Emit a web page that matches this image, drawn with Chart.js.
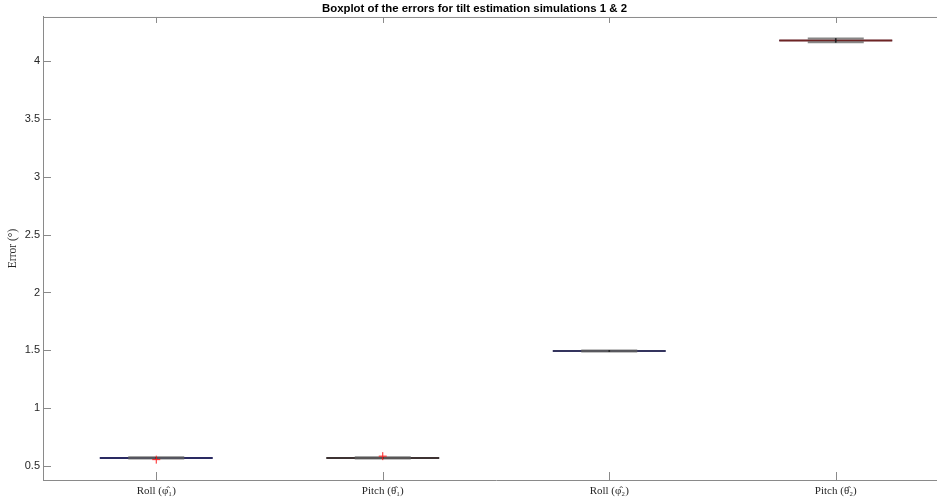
<!DOCTYPE html>
<html>
<head>
<meta charset="utf-8">
<script src="https://cdn.jsdelivr.net/npm/chart.js@4.4.1/dist/chart.umd.min.js"></script>
<style>
html, body { margin: 0; padding: 0; background: #fff; }
#wrap { position: absolute; left: 0; top: 0; width: 937px; height: 501px; overflow: hidden; }
#boxChart { display: block; }
</style>
</head>
<body>
<div id="wrap"><canvas id="boxChart" width="949" height="501"></canvas></div>
<script>
// Box plot values
const labels = ['Roll (\u03C6\u0302\u2081)', 'Pitch (\u03B8\u0302\u2081)', 'Roll (\u03C6\u0302\u2082)', 'Pitch (\u03B8\u0302\u2082)'];
const whiskerLow = [0.566, 0.566, 1.490, 4.161];
const q1 = [0.569, 0.569, 1.493, 4.171];
const median = [0.571, 0.571, 1.495, 4.177];
const q3 = [0.573, 0.573, 1.497, 4.183];
const whiskerHigh = [0.576, 0.576, 1.499, 4.194];
const outliers = [[0.556], [0.586], [], []];
const yTicks = [0.5, 1, 1.5, 2, 2.5, 3, 3.5, 4];

const outlierPoints = [];
outliers.forEach((vals, i) => {
    vals.forEach(v => outlierPoints.push({ x: labels[i], y: v }));
});
const pointsOf = arr => arr.map((v, i) => ({ x: labels[i], y: v }));

const axisColor = '#8a8a8a';
// blue box edge and red median overlap into these shades
const medianColors = ['#2a2a62', '#3d3232', '#34345e', '#6e2424'];

// MATLAB-style frame: top border and inward ticks
const framePlugin = {
    id: 'frame',
    afterDraw(chart) {
        const ctx = chart.ctx;
        const a = chart.chartArea;
        const xs = chart.scales.x;
        const ys = chart.scales.y;
        ctx.save();
        ctx.strokeStyle = axisColor;
        ctx.lineWidth = 1;
        ctx.beginPath();
        ctx.moveTo(a.left, a.top + 0.5);
        ctx.lineTo(a.right, a.top + 0.5);
        xs.ticks.forEach((t, i) => {
            const px = Math.round(xs.getPixelForTick(i)) + 0.5;
            ctx.moveTo(px, a.top);
            ctx.lineTo(px, a.top + 6);
            ctx.moveTo(px, a.bottom);
            ctx.lineTo(px, a.bottom - 8);
        });
        yTicks.forEach(v => {
            const py = Math.round(ys.getPixelForValue(v)) + 0.5;
            ctx.moveTo(a.left, py);
            ctx.lineTo(a.left + 8, py);
        });
        ctx.stroke();
        ctx.restore();
    }
};

const capStyle = {
    type: 'line',
    showLine: false,
    pointStyle: 'line',
    pointRadius: 28,
    pointHoverRadius: 28,
    borderColor: 'rgba(95,95,95,0.75)',
    borderWidth: 2,
    order: 2
};

const ctx = document.getElementById('boxChart').getContext('2d');
const boxChart = new Chart(ctx, {
    type: 'bar',
    data: {
        labels: labels,
        datasets: [
            {
                label: 'box',
                data: labels.map((l, i) => [q1[i], q3[i]]),
                backgroundColor: 'rgba(0,0,0,0)',
                borderColor: '#2a2a7a',
                borderWidth: 1,
                borderSkipped: false,
                barPercentage: 0.5,
                categoryPercentage: 1,
                grouped: false,
                order: 4
            },
            {
                label: 'median',
                type: 'line',
                data: pointsOf(median),
                showLine: false,
                pointStyle: 'line',
                pointRadius: 56.5,
                pointHoverRadius: 56.5,
                borderColor: medianColors,
                pointBorderColor: medianColors,
                borderWidth: 2,
                order: 3
            },
            Object.assign({ label: 'lower adjacent', data: pointsOf(whiskerLow) }, capStyle),
            Object.assign({ label: 'upper adjacent', data: pointsOf(whiskerHigh) }, capStyle),
            {
                label: 'whisker',
                data: labels.map((l, i) => [whiskerLow[i], whiskerHigh[i]]),
                backgroundColor: '#222',
                barThickness: 1,
                grouped: false,
                order: 1.5
            },
            {
                label: 'outliers',
                type: 'line',
                data: outlierPoints,
                showLine: false,
                pointStyle: 'cross',
                pointRadius: 4,
                pointHoverRadius: 4,
                borderColor: '#ff2020',
                borderWidth: 1,
                order: 1
            }
        ]
    },
    options: {
        responsive: false,
        animation: false,
        layout: { autoPadding: false, padding: { left: 0, right: 0, top: 0, bottom: 0 } },
        plugins: {
            legend: { display: false },
            tooltip: { enabled: false },
            title: {
                display: true,
                text: 'Boxplot of the errors for tilt estimation simulations 1 & 2',
                color: '#000',
                font: { family: "'Liberation Sans', Arial, sans-serif", size: 11.4, weight: 'bold' },
                padding: { top: 2, bottom: 1.3 },
                align: 'center'
            }
        },
        scales: {
            x: {
                type: 'category',
                offset: true,
                grid: { display: false, drawTicks: false },
                border: { display: true, color: axisColor },
                ticks: {
                    color: '#262626',
                    padding: 5,
                    font: { family: "'Liberation Serif', 'DejaVu Serif', serif", size: 11 }
                },
                afterFit: s => { s.height = 21; }
            },
            y: {
                min: 0.38,
                max: 4.38,
                afterBuildTicks: s => { s.ticks = yTicks.map(v => ({ value: v })); },
                grid: { display: false, drawTicks: false },
                border: { display: true, color: axisColor },
                ticks: {
                    color: '#262626',
                    padding: 3,
                    font: { family: "'Liberation Sans', Arial, sans-serif", size: 11 },
                    callback: v => String(v)
                },
                title: {
                    display: true,
                    text: 'Error (\u00B0)',
                    color: '#262626',
                    padding: { top: 6, bottom: 0 },
                    font: { family: "'Liberation Serif', 'DejaVu Serif', serif", size: 11.5 }
                },
                afterFit: s => { s.width = 43; }
            }
        }
    },
    plugins: [framePlugin]
});
</script>
</body>
</html>
